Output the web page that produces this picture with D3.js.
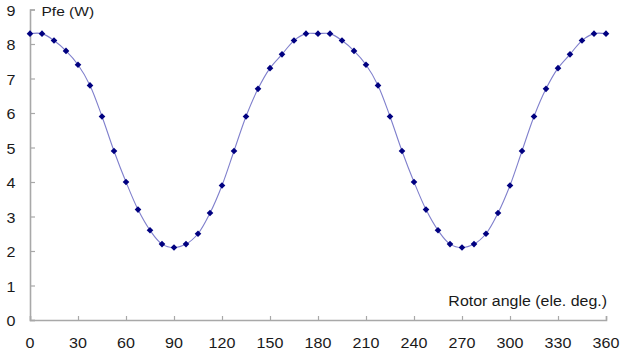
<!DOCTYPE html>
<html>
<head>
<meta charset="utf-8">
<script src="https://cdn.jsdelivr.net/npm/d3@7"></script>
<style>
  body { margin: 0; background: #fff; }
  svg text { font-family: "Liberation Sans", Arial, sans-serif; fill: #1a1a1a; }
</style>
</head>
<body>
<svg id="chart" width="622" height="358"></svg>
<script>
// rotor angle, electrical degrees (step 7.5)
var angles = d3.range(0, 360.1, 7.5);

// iron loss Pfe (W)
var pfe = [
  8.3, 8.3, 8.1, 7.8, 7.4, 6.8, 5.9, 4.9, 4.0, 3.2, 2.6, 2.2,
  2.1, 2.2, 2.5, 3.1, 3.9, 4.9, 5.9, 6.7, 7.3, 7.7, 8.1, 8.3,
  8.3, 8.3, 8.1, 7.8, 7.4, 6.8, 5.9, 4.9, 4.0, 3.2, 2.6, 2.2,
  2.1, 2.2, 2.5, 3.1, 3.9, 4.9, 5.9, 6.7, 7.3, 7.7, 8.1, 8.3,
  8.3
];

var xTicks = [0, 30, 60, 90, 120, 150, 180, 210, 240, 270, 300, 330, 360];
var yTicks = [0, 1, 2, 3, 4, 5, 6, 7, 8, 9];

var svg = d3.select('#chart');

var x = d3.scaleLinear().domain([0, 360]).range([30, 606]);
var y = d3.scaleLinear().domain([0, 9]).range([320, 9.5]);

var sx = 1.15; // the source text is a bit wider than Arial

// axes
var xAxis = svg.append('g').attr('transform', 'translate(0,320)')
    .call(d3.axisBottom(x).tickValues(xTicks).tickSize(-4).tickFormat(''));
var yAxis = svg.append('g').attr('transform', 'translate(30,0)')
    .call(d3.axisLeft(y).tickValues(yTicks).tickSize(-5).tickFormat(''));

[xAxis, yAxis].forEach(function(a) {
    a.select('.domain').attr('stroke', '#a8a8a8').attr('stroke-width', 1.6);
    a.selectAll('.tick line').attr('stroke', '#a8a8a8').attr('stroke-width', 1.2);
});

// tick labels
svg.append('g').selectAll('text').data(xTicks).enter().append('text')
    .attr('transform', function(d) { return 'translate(' + x(d) + ',348) scale(' + sx + ',1)'; })
    .attr('text-anchor', 'middle')
    .style('font-size', '14px')
    .text(function(d) { return d; });

svg.append('g').selectAll('text').data(yTicks).enter().append('text')
    .attr('transform', function(d) { return 'translate(15.5,' + (y(d) + 6) + ') scale(' + sx + ',1)'; })
    .attr('text-anchor', 'end')
    .style('font-size', '14px')
    .text(function(d) { return d; });

// axis titles
svg.append('text')
    .attr('transform', 'translate(41.5,15.5) scale(' + sx + ',1)')
    .style('font-size', '13.5px')
    .text('Pfe (W)');

svg.append('text')
    .attr('transform', 'translate(607,305.5) scale(1.1,1)')
    .attr('text-anchor', 'end')
    .style('font-size', '14.5px')
    .text('Rotor angle (ele. deg.)');

// data
var pts = angles.map(function(a, i) { return [a, pfe[i]]; });

var line = d3.line()
    .x(function(d) { return x(d[0]); })
    .y(function(d) { return y(d[1]); })
    .curve(d3.curveCatmullRom.alpha(0.5));

svg.append('path').datum(pts)
    .attr('fill', 'none')
    .attr('stroke', '#7f7fcc')
    .attr('stroke-width', 1.1)
    .attr('d', line);

svg.append('g').selectAll('path').data(pts).enter().append('path')
    .attr('transform', function(d) { return 'translate(' + x(d[0]) + ',' + y(d[1]) + ')'; })
    .attr('d', 'M0,-3.3L3.3,0L0,3.3L-3.3,0Z')
    .attr('fill', '#000080');
</script>
</body>
</html>
